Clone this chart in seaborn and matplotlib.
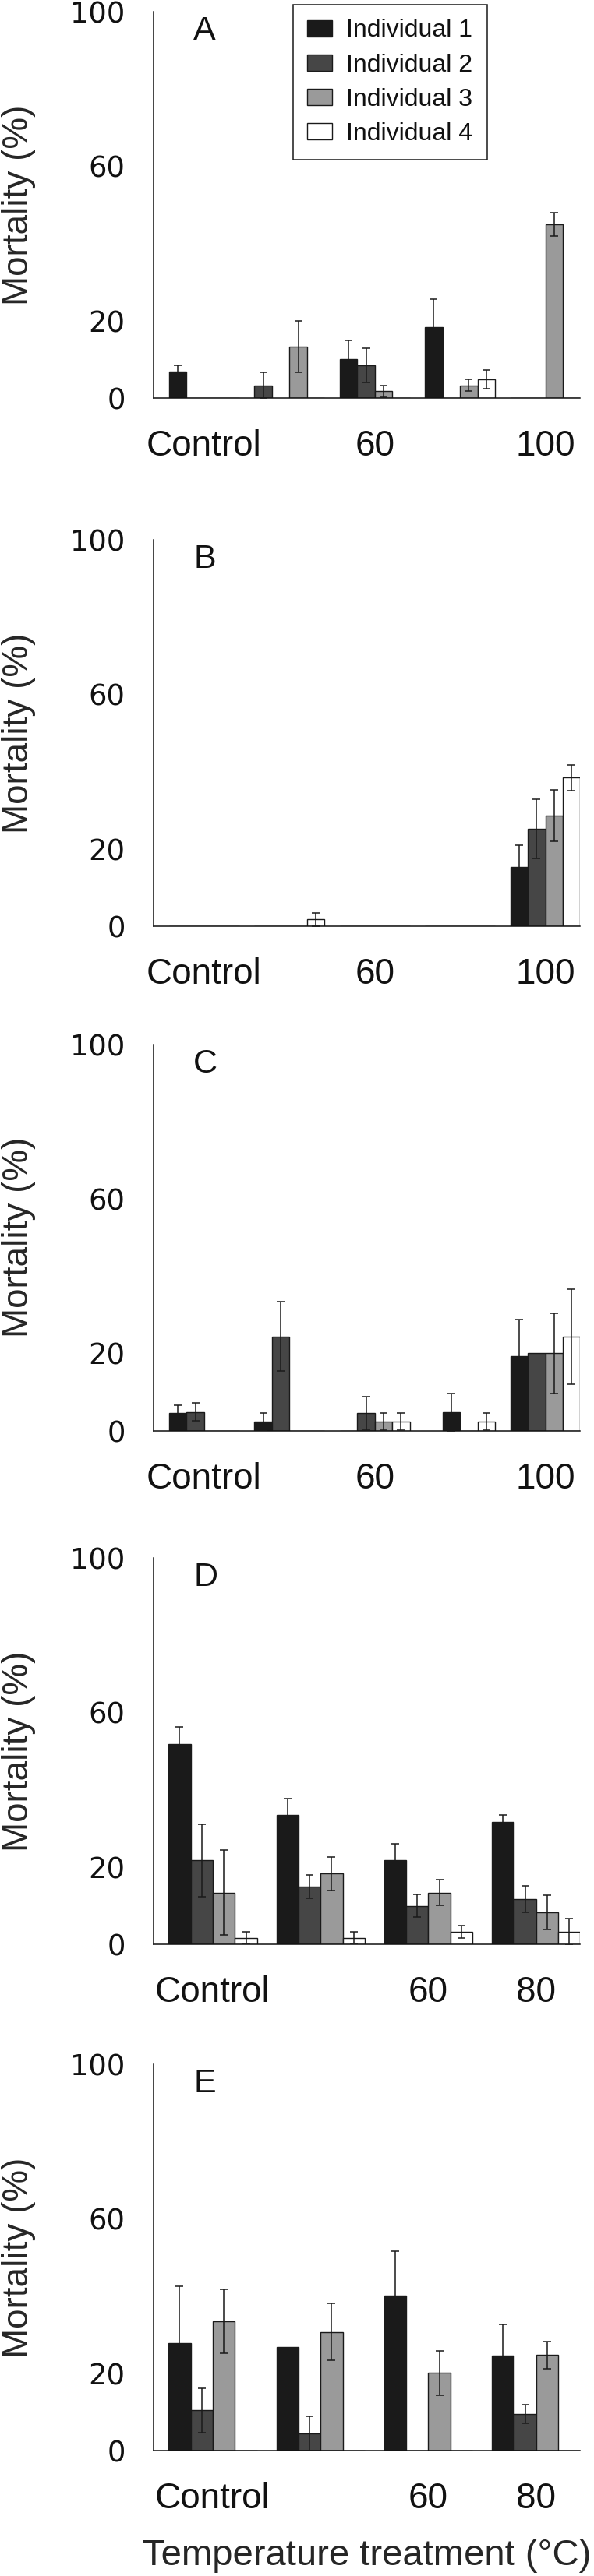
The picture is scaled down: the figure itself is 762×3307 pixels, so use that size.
import numpy as np
import pandas as pd
import matplotlib
matplotlib.use('Agg')
import matplotlib.pyplot as plt
import seaborn as sns

# dados (mortalidade media em % e erro), uma lista por individuo
individuos = ['Individual 1', 'Individual 2', 'Individual 3', 'Individual 4']
cores = ['#1a1a1a', '#464646', '#9a9a9a', '#ffffff']

grupos_abc = ['Control', '40', '60', '80', '100']
rotulos_abc = ['Control', '', '60', '', '100']
grupos_de = ['Control', '40', '60', '80']
rotulos_de = ['Control', '', '60', '80']

marcas_y = [0, 20, 40, 60, 80, 100]
rotulos_y = ['0', '20', '', '60', '', '100']

nan = np.nan

# painel A
a_media = [[6.8, 0, 10.0, 18.3, 0],
           [0, 3.3, 8.4, 0, 0],
           [0, 13.3, 1.7, 3.3, 45.0],
           [0, 0, 0, 4.9, 0]]
a_erro = [[1.6, nan, 5.0, 7.2, nan],
          [nan, 3.3, 4.4, nan, nan],
          [nan, 6.6, 1.6, 1.6, 3.0],
          [nan, nan, nan, 2.4, nan]]

# painel B
b_media = [[0, 0, 0, 0, 15.2],
           [0, 0, 0, 0, 25.2],
           [0, 0, 0, 0, 28.6],
           [0, 1.7, 0, 0, 38.4]]
b_erro = [[nan, nan, nan, nan, 5.8],
          [nan, nan, nan, nan, 7.6],
          [nan, nan, nan, nan, 6.7],
          [nan, 1.7, nan, nan, 3.3]]

# painel C
c_media = [[4.5, 2.3, 0, 4.8, 19.3],
           [4.8, 24.4, 4.5, 0, 20.0],
           [0, 0, 2.3, 0, 20.0],
           [0, 0, 2.3, 2.3, 24.4]]
c_erro = [[2.1, 2.2, nan, 4.8, 9.4],
          [2.3, 9.0, 4.4, nan, nan],
          [nan, nan, 2.2, nan, 10.3],
          [nan, nan, 2.2, 2.2, 12.3]]

# painel D
d_media = [[51.9, 33.4, 21.7, 31.7],
           [21.7, 14.9, 10.0, 11.7],
           [13.4, 18.3, 13.4, 8.3],
           [1.7, 1.7, 3.2, 3.2]]
d_erro = [[4.4, 4.4, 4.3, 1.7],
          [9.3, 3.0, 2.9, 3.4],
          [11.0, 4.4, 3.3, 4.4],
          [1.5, 1.5, 1.6, 3.4]]

# painel E
e_media = [[27.9, 26.8, 40.2, 24.6],
           [10.4, 4.4, 0, 9.5],
           [33.4, 30.7, 20.1, 24.7],
           [0, 0, 0, 0]]
e_erro = [[14.7, nan, 11.3, 8.0],
          [5.8, 4.4, nan, 2.4],
          [8.3, 7.4, 5.7, 3.6],
          [nan, nan, nan, nan]]

sns.set_style('white')
plt.rcParams['font.family'] = ['Liberation Sans', 'DejaVu Sans']
plt.rcParams['text.color'] = '#111111'
plt.rcParams['xtick.color'] = '#111111'
plt.rcParams['ytick.color'] = '#111111'

fig = plt.figure(figsize=(7.62, 33.07), dpi=100)

# (letra, medias, erros, grupos, rotulos, base do eixo, barras deslocadas na figura original)
paineis = [
  ('A', a_media, a_erro, grupos_abc, rotulos_abc, 0.8455, [(1, 1, -1)]),
  ('B', b_media, b_erro, grupos_abc, rotulos_abc, 0.6405, []),
  ('C', c_media, c_erro, grupos_abc, rotulos_abc, 0.4446, [(0, 3, 1)]),
  ('D', d_media, d_erro, grupos_de, rotulos_de, 0.2452, []),
  ('E', e_media, e_erro, grupos_de, rotulos_de, 0.0487, []),
]

for letra, media, erro, grupos, rotulos, base, desloc in paineis:
  ax = fig.add_axes([0.2583, base, 0.7186, 0.15])

  linhas = []
  for i, ind in enumerate(individuos):
    for j, g in enumerate(grupos):
      linhas.append((g, ind, media[i][j]))
  df = pd.DataFrame(linhas, columns=['grupo', 'individuo', 'mortalidade'])

  sns.barplot(
    data=df, x='grupo', y='mortalidade', hue='individuo',
    order=grupos, hue_order=individuos, palette=cores, saturation=1,
    width=0.82, errorbar=None, edgecolor='#1a1a1a', linewidth=1.0,
    legend=(letra == 'A'), ax=ax
  )

  # algumas barras aparecem numa posicao trocada no original
  for i, j, passo in desloc:
    p = ax.containers[i][j]
    p.set_x(p.get_x() + passo * p.get_width())

  # barras de erro no centro de cada barra
  xs, ys, es = [], [], []
  for i in range(len(individuos)):
    for j, p in enumerate(ax.containers[i]):
      if np.isnan(erro[i][j]):
        continue
      xs.append(p.get_x() + p.get_width() / 2)
      ys.append(p.get_height())
      es.append(erro[i][j])
  ax.errorbar(xs, ys, yerr=es, fmt='none', ecolor='#1a1a1a',
              elinewidth=1.1, capsize=3.5, capthick=1.1, zorder=5)

  ax.set_ylim(0, 100)
  if len(grupos) == 5:
    ax.set_xlim(-0.595, 4.41)
  else:
    ax.set_xlim(-0.551, 3.41)
  # numeros do eixo y sao mais largos no original
  ax.set_yticks(marcas_y, rotulos_y, fontfamily='DejaVu Sans', fontsize=26.6)
  ax.set_xticks(range(len(grupos)), rotulos, fontsize=33)
  ax.tick_params(axis='y', direction='in', length=19.4, width=1.1, pad=26)
  ax.tick_params(axis='x', length=0, pad=29)
  for lado in ['top', 'right']:
    ax.spines[lado].set_visible(False)
  for lado in ['left', 'bottom']:
    ax.spines[lado].set_linewidth(1.1)
    ax.spines[lado].set_color('#111111')

  ax.set_ylabel('Mortality (%)', fontsize=33)
  ax.yaxis.set_label_coords(-0.2754, 0.5)
  if letra == 'E':
    ax.set_xlabel('Temperature treatment (°C)', fontsize=34)
    ax.xaxis.set_label_coords(0.5, -0.228)
  else:
    ax.set_xlabel('')

  ax.text(0.0935, 0.99, letra, transform=ax.transAxes, fontsize=31,
          ha='left', va='top')

  if letra == 'A':
    leg = ax.legend(
      loc='upper left', bbox_to_anchor=(0.327, 1.018), fontsize=23,
      frameon=True, fancybox=False, framealpha=1, edgecolor='#1a1a1a',
      borderpad=0.58, labelspacing=0.44, handlelength=1.0, handleheight=0.65,
      handletextpad=0.56, borderaxespad=0
    )
    leg.get_frame().set_linewidth(1.1)

fig.savefig('out.png', dpi=100)
